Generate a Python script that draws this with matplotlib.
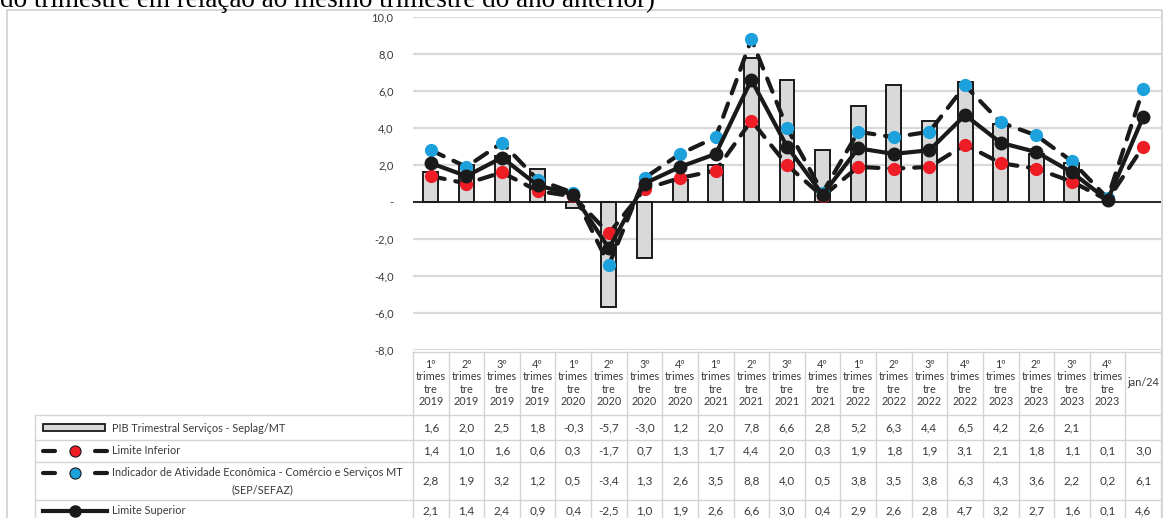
import numpy as np
import matplotlib.pyplot as plt
from matplotlib.patches import Rectangle
from matplotlib.ticker import FuncFormatter

plt.rcParams['font.family'] = ['Lato', 'DejaVu Sans']

# categories (header of the data table)
categorias = ['1º\ntrimes\ntre\n2019', '2º\ntrimes\ntre\n2019', '3º\ntrimes\ntre\n2019', '4º\ntrimes\ntre\n2019',
              '1º\ntrimes\ntre\n2020', '2º\ntrimes\ntre\n2020', '3º\ntrimes\ntre\n2020', '4º\ntrimes\ntre\n2020',
              '1º\ntrimes\ntre\n2021', '2º\ntrimes\ntre\n2021', '3º\ntrimes\ntre\n2021', '4º\ntrimes\ntre\n2021',
              '1º\ntrimes\ntre\n2022', '2º\ntrimes\ntre\n2022', '3º\ntrimes\ntre\n2022', '4º\ntrimes\ntre\n2022',
              '1º\ntrimes\ntre\n2023', '2º\ntrimes\ntre\n2023', '3º\ntrimes\ntre\n2023', '4º\ntrimes\ntre\n2023',
              'jan/24']

# series
pib_servicos = [1.6, 2.0, 2.5, 1.8, -0.3, -5.7, -3.0, 1.2, 2.0, 7.8, 6.6, 2.8, 5.2, 6.3, 4.4, 6.5, 4.2, 2.6, 2.1,
                np.nan, np.nan]
limite_inferior = [1.4, 1.0, 1.6, 0.6, 0.3, -1.7, 0.7, 1.3, 1.7, 4.4, 2.0, 0.3, 1.9, 1.8, 1.9, 3.1, 2.1, 1.8, 1.1,
                   0.1, 3.0]
indicador = [2.8, 1.9, 3.2, 1.2, 0.5, -3.4, 1.3, 2.6, 3.5, 8.8, 4.0, 0.5, 3.8, 3.5, 3.8, 6.3, 4.3, 3.6, 2.2,
             0.2, 6.1]
limite_superior = [2.1, 1.4, 2.4, 0.9, 0.4, -2.5, 1.0, 1.9, 2.6, 6.6, 3.0, 0.4, 2.9, 2.6, 2.8, 4.7, 3.2, 2.7, 1.6,
                   0.1, 4.6]

nomes = ['PIB Trimestral Serviços - Seplag/MT', 'Limite Inferior',
         'Indicador de Atividade Econômica - Comércio e Serviços MT\n(SEP/SEFAZ)', 'Limite Superior']

titulo = 'do trimestre em relação ao mesmo trimestre do ano anterior)'

# colours
cor_barra = '#d9d9d9'
cor_linha = '#1a1a1a'
cor_vermelho = '#ee1c25'
cor_azul = '#1da1dc'
cor_grade = '#d9d9d9'
cor_texto = '#3a3a3a'

W, H = 1163, 518
fig = plt.figure(figsize=(W / 100, H / 100), dpi=100)

# pixel layout
x0, x1 = 413, 1161
y_top, y_bot = 17, 350
n = len(categorias)
cw = (x1 - x0) / n

ax = fig.add_axes([x0 / W, 1 - y_bot / H, (x1 - x0) / W, (y_bot - y_top) / H])
ax.patch.set_alpha(0)
x = np.arange(n)

ax.set_ylim(-8, 10)
ax.set_xlim(-0.5, n - 0.5)
ax.set_yticks(np.arange(-8, 11, 2))
ax.yaxis.set_major_formatter(FuncFormatter(lambda v, p: '-' if abs(v) < 1e-9 else f'{v:.1f}'.replace('.', ',')))
ax.tick_params(axis='y', length=0, labelsize=8, labelcolor=cor_texto, pad=14)
ax.set_xticks([])
for s in ax.spines.values():
    s.set_visible(False)
ax.grid(axis='y', color=cor_grade, lw=1.6, zorder=0)
ax.set_axisbelow(True)

ax.bar(x, pib_servicos, width=0.42, color=cor_barra, edgecolor=cor_linha, lw=1.4, zorder=2)
ax.axhline(0, color=cor_linha, lw=1.3, zorder=2.5)

dash = (0, (3.4, 2.6))
ax.plot(x, limite_inferior, color=cor_linha, lw=3, ls=dash, dash_capstyle='round', zorder=3)
ax.plot(x, limite_inferior, ls='none', marker='o', ms=8.5, mfc=cor_vermelho, mec=cor_vermelho, zorder=4)
ax.plot(x, indicador, color=cor_linha, lw=3, ls=dash, dash_capstyle='round', zorder=3)
ax.plot(x, indicador, ls='none', marker='o', ms=8.5, mfc=cor_azul, mec=cor_azul, zorder=4)
ax.plot(x, limite_superior, color=cor_linha, lw=3, marker='o', ms=9, mfc=cor_linha, mec=cor_linha, zorder=5)

# overlay in pixel coordinates for frame, title and data table
ov = fig.add_axes([0, 0, 1, 1], zorder=-1)
ov.set_xlim(0, W)
ov.set_ylim(H, 0)
ov.axis('off')

ov.plot([7, 7, 1162, 1162], [H + 5, 10, 10, H + 5], color='#d0d0d0', lw=1.2)
# title line, cut by the top edge as in the source image
ov.text(0, 7, titulo, family='Liberation Serif', fontsize=19.5, va='baseline', ha='left', color='black')

# table grid
linhas_y = [352, 415, 440, 462, 500]
leg_x = 35
gc = '#d4d4d4'
ov.plot([x0, x1], [linhas_y[0]] * 2, color=gc, lw=1)
for yy in linhas_y[1:]:
    ov.plot([leg_x, x1], [yy, yy], color=gc, lw=1)
for i in range(n + 1):
    ov.plot([x0 + i * cw] * 2, [linhas_y[0], H + 5], color=gc, lw=1)
ov.plot([leg_x, leg_x], [linhas_y[1], H + 5], color=gc, lw=1)

fs = 7.8
for i, lab in enumerate(categorias):
    ov.text(x0 + (i + 0.5) * cw, 383, lab, ha='center', va='center', fontsize=fs, color=cor_texto,
            linespacing=1.15)

row_c = [428, 451, 481, 511]
series = [pib_servicos, limite_inferior, indicador, limite_superior]
for r, vals in enumerate(series):
    for i, v in enumerate(vals):
        if np.isnan(v):
            continue
        ov.text(x0 + (i + 0.5) * cw, row_c[r], f'{v:.1f}'.replace('.', ','), ha='center', va='center',
                fontsize=fs + 0.7, color=cor_texto)

# legend keys
ov.add_patch(Rectangle((43, 424), 62, 7, facecolor=cor_barra, edgecolor=cor_linha, lw=1.3))
ov.text(112, row_c[0], nomes[0], ha='left', va='center', fontsize=fs, color=cor_texto)
for r, cor in [(1, cor_vermelho), (2, cor_azul)]:
    yk = 451 if r == 1 else 473
    ov.plot([43, 55], [yk, yk], color=cor_linha, lw=3, solid_capstyle='round')
    ov.plot([95, 107], [yk, yk], color=cor_linha, lw=3, solid_capstyle='round')
    ov.plot([75], [yk], marker='o', ms=8, color=cor, mec=cor_linha, mew=0.8)
ov.text(112, 451, nomes[1], ha='left', va='center', fontsize=fs, color=cor_texto)
l1, l2 = nomes[2].split('\n')
ov.text(112, 473, l1, ha='left', va='center', fontsize=fs, color=cor_texto)
ov.text(262, 490, l2, ha='center', va='center', fontsize=fs, color=cor_texto)
ov.plot([43, 75, 107], [511, 511, 511], color=cor_linha, lw=3, marker='o', markevery=[1], ms=8)
ov.text(112, 511, nomes[3], ha='left', va='center', fontsize=fs, color=cor_texto)

fig.savefig('out.png', dpi=100)
